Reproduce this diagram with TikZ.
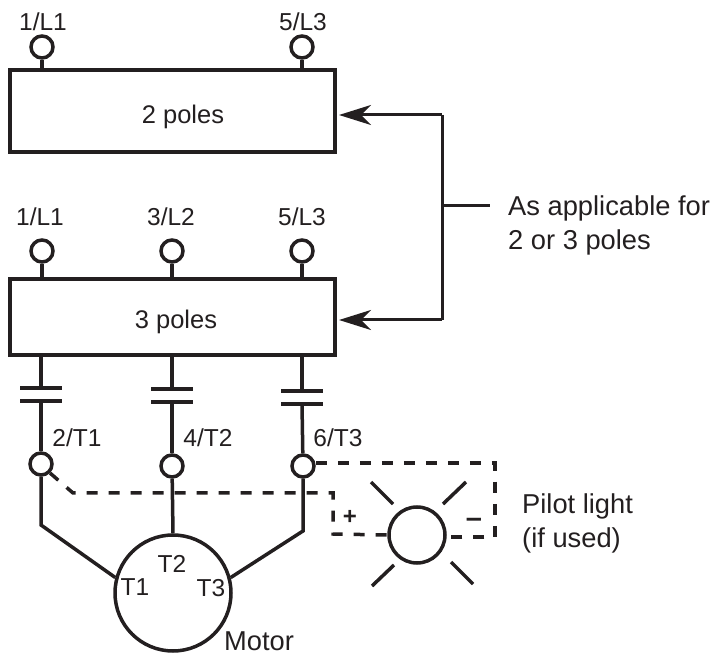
\documentclass[tikz,border=0pt]{standalone}
\usepackage{fontspec}
\setmainfont{Liberation Sans}
\usetikzlibrary{arrows.meta}
\definecolor{ink}{RGB}{35,31,32}
\tikzset{
  wire/.style={draw=ink,line width=3.5pt},
  dashwire/.style={draw=ink,line width=3.5pt,dash pattern=on 11pt off 11pt},
  lead/.style={draw=ink,line width=3pt},
  ray/.style={draw=ink,line width=3.5pt},
  term/.style={circle,draw=ink,line width=3.5pt,minimum size=22pt,inner sep=0pt},
  polebox/.style={rectangle,draw=ink,line width=4pt,minimum width=325pt,inner sep=0pt},
  plate/.style={rectangle,fill=ink,minimum width=42pt,minimum height=4pt,inner sep=0pt},
  txt/.style={text=ink,inner sep=0pt,font=\fontsize{24.5}{28}\selectfont},
  bigtxt/.style={text=ink,inner sep=0pt,align=left,font=\fontsize{27.3}{34}\selectfont},
  boxtxt/.style={text=ink,font=\fontsize{25.5}{30}\selectfont}
}
\begin{document}
\begin{tikzpicture}[x=1pt,y=-1pt]
\useasboundingbox (0,0) rectangle (716,655);
\draw (172.5,111) node[polebox,minimum height=82pt] (box2) {};
\draw (183,117) node[boxtxt] (box2txt) {2 poles};
\draw (172,317) node[polebox,minimum height=76pt] (box3) {};
\draw (176,322) node[boxtxt] (box3txt) {3 poles};
% line terminals
\draw (42,47) node[term] (a1) {};
\draw (302,47) node[term] (a3) {};
\draw (42,251) node[term] (l1) {};
\draw (172,251) node[term] (l2) {};
\draw (302,251) node[term] (l3) {};
\draw (43,22) node[txt] (a1txt) {1/L1};
\draw (303,22) node[txt] (a3txt) {5/L3};
\draw (40,217) node[txt] (l1txt) {1/L1};
\draw (171,217) node[txt] (l2txt) {3/L2};
\draw (302,217) node[txt] (l3txt) {5/L3};
\draw[wire] (a1) -- (a1 |- box2.north);
\draw[wire] (a3) -- (a3 |- box2.north);
\draw[wire] (l1) -- (l1 |- box3.north);
\draw[wire] (l2) -- (l2 |- box3.north);
\draw[wire] (l3) -- (l3 |- box3.north);
% contacts
\draw (41,388) node[plate] (p1a) {};
\draw (41,401) node[plate] (p1b) {};
\draw (172,389) node[plate] (p2a) {};
\draw (172,402) node[plate] (p2b) {};
\draw (302,391) node[plate] (p3a) {};
\draw (302,404) node[plate] (p3b) {};
\draw (41,464) node[term] (t1) {};
\draw (172,466) node[term] (t2) {};
\draw (303,466) node[term] (t3) {};
\draw (77,438) node[txt] (t1txt) {2/T1};
\draw (208,438) node[txt] (t2txt) {4/T2};
\draw (338,438) node[txt] (t3txt) {6/T3};
\draw[wire] (p1a |- box3.south) -- (p1a);
\draw[wire] (p2a |- box3.south) -- (p2a);
\draw[wire] (p3a |- box3.south) -- (p3a);
\draw[wire] (p1b) -- (t1);
\draw[wire] (p2b) -- (t2);
\draw[wire] (p3b) -- (t3);
% motor
\draw (173,593) node[term,minimum size=116pt] (motor) {};
\draw (135,587) node[txt] (m1txt) {T1};
\draw (172,564) node[txt] (m2txt) {T2};
\draw (211,588) node[txt] (m3txt) {T3};
\draw (259,641) node[bigtxt] (motortxt) {Motor};
\coordinate (k1) at (41,525);
\coordinate (k3) at (303,531);
\draw[wire] (t1) -- (k1) -- (motor.165);
\draw[wire] (t2) -- (motor.north);
\draw[wire] (t3) -- (k3) -- (motor.15);
% pilot light
\draw (417,535) node[term,minimum size=56pt] (lamp) {};
\coordinate (d1) at (73,493);
\coordinate (d2) at (333,493);
\coordinate (d3) at (333,534);
\coordinate (d4) at (495,463);
\coordinate (d5) at (495,537);
\draw[dashwire] (t1.-45) -- (d1) -- (d2) -- (d3) -- (lamp.west);
\draw[dashwire] (t3.east |- d4) -- (d4) -- (d5) -- (lamp.east |- d5);
\draw[ray] (371,482) -- (393,504);
\draw[ray] (466,482) -- (443,504);
\draw[ray] (372,586) -- (394,565);
\draw[ray] (473,584) -- (451,562);
\draw (350,517) node[txt,font=\fontsize{24}{28}\bfseries] (plus) {+};
\draw (474,523) node[txt,font=\fontsize{29}{30}\bfseries] (minus) {--};
\draw (522,523) node[bigtxt,anchor=west] (pilot) {Pilot light\\(if used)};
% brace with arrows
\coordinate (e2) at (339,115);
\coordinate (e3) at (339,320);
\coordinate (c2) at (442,115);
\coordinate (c3) at (442,320);
\coordinate (jn) at (442,206);
\coordinate (je) at (490,206);
\draw[lead,-{Stealth[length=32pt,width=20pt,inset=10pt]}] (c2) -- (e2);
\draw[lead,-{Stealth[length=32pt,width=20pt,inset=10pt]}] (c3) -- (e3);
\draw[lead] (c2) -- (c3);
\draw[lead] (jn) -- (je);
\draw (508,225.5) node[bigtxt,anchor=west] (aslabel) {As applicable for\\2 or 3 poles};
\end{tikzpicture}
\end{document}
